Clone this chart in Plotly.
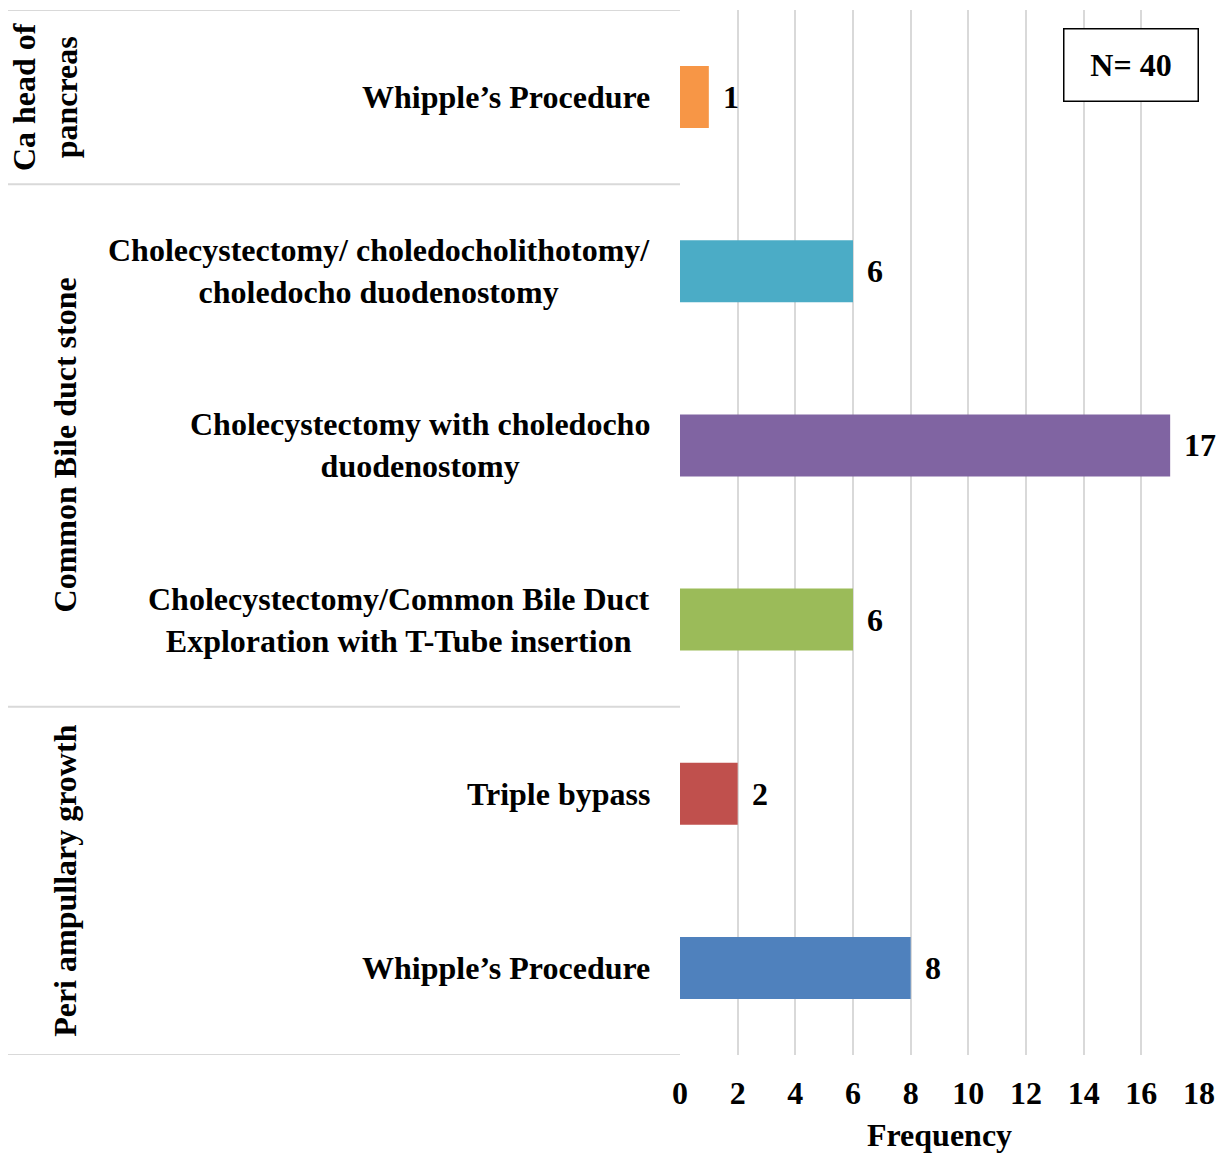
import plotly.graph_objects as go

# Surgical procedures, listed top to bottom
procedures = [
    "Whipple’s Procedure",
    "Cholecystectomy/ choledocholithotomy/<br>choledocho duodenostomy",
    "Cholecystectomy with choledocho<br>duodenostomy",
    "Cholecystectomy/Common Bile Duct<br>Exploration with T-Tube insertion",
    "Triple bypass",
    "Whipple’s Procedure",
]
frequency = [1, 6, 17, 6, 2, 8]
bar_colors = ["#F79646", "#4BACC6", "#8064A2", "#9BBB59", "#C0504D", "#4F81BD"]

# Diagnosis groups: label and the row span (first, last) they cover
groups = ["Ca head of<br>pancreas", "Common Bile duct stone", "Peri ampullary growth"]
group_rows = [(0, 0), (1, 3), (4, 5)]

x_ticks = list(range(0, 20, 2))
total_label = "N= 40"

W, H = 1229, 1156
ML, MR, MT, MB = 680, 30, 10, 101
PW = W - ML - MR
FONT = "Liberation Serif, Times New Roman, serif"
FS = 32


def paper_x(px):
    return (px - ML) / PW


rows = list(range(len(procedures)))

fig = go.Figure(
    go.Bar(
        x=frequency,
        y=rows,
        orientation="h",
        width=0.356,
        marker=dict(color=bar_colors, line=dict(width=0)),
        hoverinfo="x",
    )
)

annotations = []
# procedure labels, right-aligned block with centered lines
for r, name in zip(rows, procedures):
    annotations.append(dict(
        x=paper_x(652), xref="paper", y=r, yref="y",
        text=f"<b>{name}</b>", showarrow=False,
        xanchor="right", yanchor="middle", align="center",
        font=dict(family=FONT, size=FS, color="black"),
    ))

# value labels next to the bars
for r, v in zip(rows, frequency):
    annotations.append(dict(
        x=v, xref="x", y=r, yref="y", text=f"<b>{v}</b>", showarrow=False,
        xanchor="left", yanchor="middle", xshift=12,
        font=dict(family=FONT, size=FS, color="black"),
    ))

# rotated group labels
group_x = [45, 65, 65]
for g, (a, b), gx in zip(groups, group_rows, group_x):
    annotations.append(dict(
        x=paper_x(gx), xref="paper", y=(a + b) / 2, yref="y",
        text=f"<b>{g}</b>", showarrow=False, textangle=-90,
        xanchor="center", yanchor="middle", align="center",
        font=dict(family=FONT, size=FS, color="black"),
    ))

# sample size box
annotations.append(dict(
    x=1.0, xref="paper", y=1 - (28 - MT) / (H - MT - MB), yref="paper",
    text=f"<b>{total_label}</b>", showarrow=False,
    xanchor="right", yanchor="top", width=131, height=69,
    bordercolor="black", borderwidth=1.5, bgcolor="white",
    font=dict(family=FONT, size=FS, color="black"),
))

# horizontal dividers between the diagnosis groups
shapes = []
bounds = sorted({-0.5} | {b + 0.5 for _, b in group_rows})
for yb in bounds:
    shapes.append(dict(
        type="line", xref="paper", yref="y",
        x0=paper_x(8), x1=0, y0=yb, y1=yb,
        line=dict(color="#D9D9D9", width=2),
    ))

fig.update_layout(
    width=W, height=H,
    margin=dict(l=ML, r=MR, t=MT, b=MB),
    paper_bgcolor="white", plot_bgcolor="white",
    showlegend=False,
    annotations=annotations,
    shapes=shapes,
    font=dict(family=FONT, size=FS, color="black"),
    xaxis=dict(
        range=[0, 18], tickvals=x_ticks,
        ticktext=[f"<b>{t}</b>" for t in x_ticks],
        showgrid=True, gridcolor="#D9D9D9", gridwidth=1.5,
        zeroline=False, showline=False, ticks="",
        ticklabelstandoff=16,
        title=dict(text="<b>Frequency</b>", standoff=13,
                   font=dict(family=FONT, size=FS)),
        tickfont=dict(family=FONT, size=FS),
        fixedrange=True,
    ),
    yaxis=dict(
        range=[5.5, -0.5], showticklabels=False, showgrid=False,
        zeroline=False, showline=False, ticks="", fixedrange=True,
    ),
)

fig.write_html("out.html")
